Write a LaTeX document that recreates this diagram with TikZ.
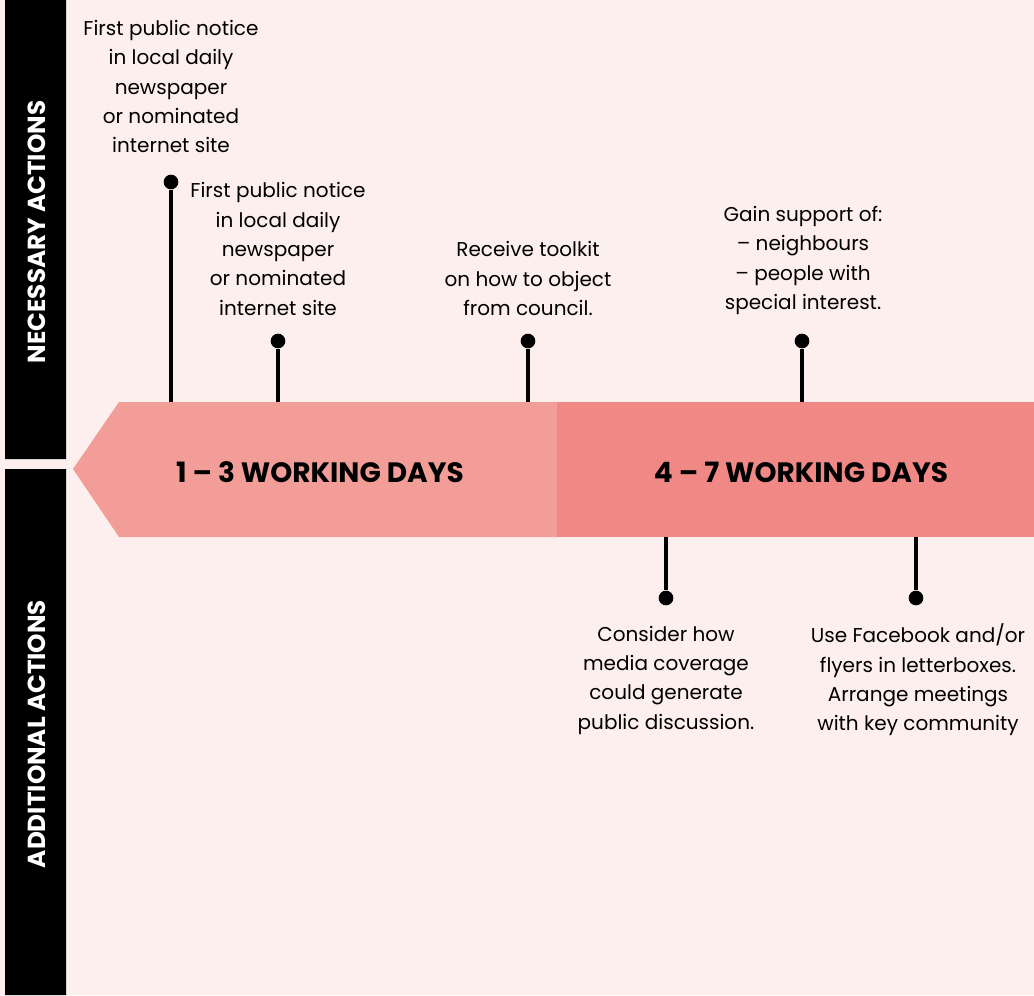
\documentclass[tikz,border=0pt]{standalone}
\usepackage{fontspec}
\setmainfont{Poppins}
\definecolor{bgpink}{HTML}{FDEFEE}
\definecolor{firstseg}{HTML}{F29D97}
\definecolor{secondseg}{HTML}{F08986}
\begin{document}
\begin{tikzpicture}[x=.75pt,y=-.75pt,
	dot/.style={circle,fill=black,inner sep=0pt,minimum size=11pt},
	stem/.style={line width=2.4pt},
	txt/.style={align=center,font=\fontsize{15}{22}\selectfont,inner sep=0pt},
	days/.style={font=\fontsize{21}{24}\selectfont\bfseries},
	side/.style={rotate=90,text=white,font=\fontsize{18.5}{20}\selectfont\bfseries}]
	\fill[bgpink] (0,0) rectangle (1034,995);
	\fill (5,0) rectangle (66,459) (5,469) rectangle (66,995);
	\node[side] (nec) at (37,232) {NECESSARY ACTIONS};
	\node[side] (add) at (37,734) {ADDITIONAL ACTIONS};
	\fill[firstseg] (73,469)--(119,402)--(557,402)--(557,537)--(119,537)--cycle;
	\fill[secondseg] (557,402) rectangle (1034,537);
	\node[days] (first) at (320,472) {1 – 3 WORKING DAYS};
	\node[days] (second) at (801,472) {4 – 7 WORKING DAYS};
	% stems above
	\foreach \n/\x/\y in {a/171/182,b/278/341,c/528/341,d/802/341}{
		\node[dot] (\n) at (\x,\y) {};
		\coordinate (\n') at (\x,402);
		\draw[stem] (\n)--(\n');
	}
	% stems below
	\foreach \n/\x in {e/666,f/916}{
		\node[dot] (\n) at (\x,598) {};
		\coordinate (\n') at (\x,537);
		\draw[stem] (\n')--(\n);
	}
	\node[txt] (ta) at (171,86.5) {First public notice\\in local daily\\newspaper\\or nominated\\internet site};
	\node[txt] (tb) at (278,249) {First public notice\\in local daily\\newspaper\\or nominated\\internet site};
	\node[txt] (tc) at (528,278.5) {Receive toolkit\\on how to object\\from council.};
	\node[txt] (td) at (803,260.5) {Gain support of:\\– neighbours\\– people with\\special interest.};
	\node[txt] (te) at (666,680) {Consider how\\media coverage\\could generate\\public discussion.};
	\node[txt] (tf) at (918,680) {Use Facebook and/or\\flyers in letterboxes.\\Arrange meetings\\with key community};
\end{tikzpicture}
\end{document}
